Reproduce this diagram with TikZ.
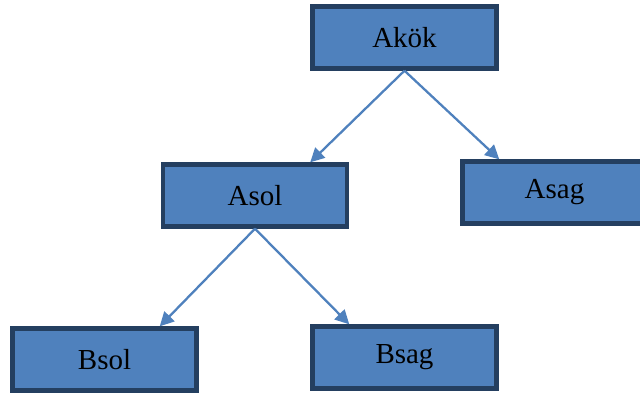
\documentclass[tikz,border=0pt]{standalone}
\usepackage{fontspec}
\setmainfont{Liberation Serif}
\usepackage{xcolor}
\usetikzlibrary{arrows.meta,positioning}
\definecolor{boxfill}{HTML}{4F81BD}
\definecolor{boxline}{HTML}{243F60}
\tikzset{%
	treebox/.style = {draw=boxline, fill=boxfill, rectangle, line width=2.5pt, minimum width=3.68cm, minimum height=1.24cm, text centered, font=\fontsize{16.5}{19}\selectfont},
	treearrow/.style = {draw=boxfill, line width=1.3pt, -{Triangle[length=8pt,width=8pt]}},
}
\begin{document}
\begin{tikzpicture}[x=0.02cm,y=-0.02cm]
		\useasboundingbox (0,0) rectangle (640,396);
		
		\node[treebox] (akok) at (404.5,37.5) {Akök};
		\node[treebox] (asol) at (255,195.5) {Asol};
		\node[treebox] (asag) at (554.5,192.5) {Asag};
		\node[treebox] (bsol) at (104.5,359.5) {Bsol};
		\node[treebox] (bsag) at (404.5,357.5) {Bsag};
		
		\draw[treearrow] (akok.south) -- (asol.31);
		\draw[treearrow] (akok.south) -- (asag.149);
		\draw[treearrow] (asol.south) -- (bsol.31);
		\draw[treearrow] (asol.south) -- (bsag.149);
\end{tikzpicture}
\end{document}
